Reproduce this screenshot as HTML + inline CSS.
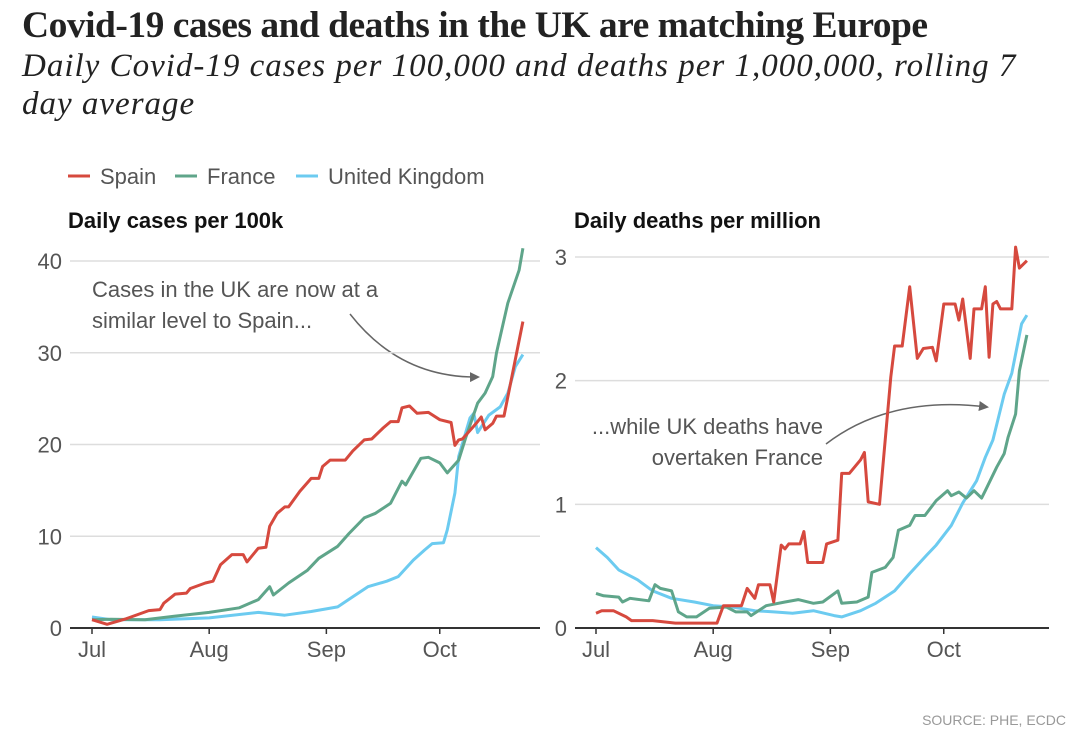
<!DOCTYPE html>
<html><head><meta charset="utf-8">
<style>
body{margin:0;background:#fff;width:1080px;height:750px;overflow:hidden;position:relative;font-family:"Liberation Sans Narrow","Liberation Sans",sans-serif;}
.t{position:absolute;margin:0;}
#title{left:22px;top:4px;font:bold 37.5px "Liberation Serif",serif;color:#222;letter-spacing:-0.5px;white-space:nowrap}
#sub{left:22px;top:47px;font:italic 33px/38px "Liberation Serif",serif;color:#222;width:1045px;letter-spacing:1px}
#src{right:14px;top:712px;font-size:14px;color:#999}
</style></head><body>
<div class="t" id="title">Covid-19 cases and deaths in the UK are matching Europe</div>
<div class="t" id="sub">Daily Covid-19 cases per 100,000 and deaths per 1,000,000, rolling 7 day average</div>
<div class="t" id="src">SOURCE: PHE, ECDC</div>
<svg id="svg" width="1080" height="750" style="position:absolute;left:0;top:0">
<defs><marker id="ah" markerWidth="10" markerHeight="10" refX="8" refY="5" orient="auto" markerUnits="userSpaceOnUse"><path d="M0,0 L10,5 L0,10 z" fill="#666"/></marker></defs>
<g font-size="22" fill="#555">
<g><line x1="68" y1="176" x2="90" y2="176" stroke="#d6493e" stroke-width="3"/><text x="100" y="184">Spain</text></g>
<g><line x1="175" y1="176" x2="197" y2="176" stroke="#5fa58a" stroke-width="3"/><text x="207" y="184">France</text></g>
<g><line x1="296" y1="176" x2="318" y2="176" stroke="#6ccbf0" stroke-width="3"/><text x="328" y="184">United Kingdom</text></g>
</g>
<text x="68" y="228" font-size="22" font-weight="bold" fill="#111">Daily cases per 100k</text>
<text x="574" y="228" font-size="22" font-weight="bold" fill="#111">Daily deaths per million</text>
<g font-size="22" fill="#555">
<text x="92" y="297">Cases in the UK are now at a</text>
<text x="92" y="328">similar level to Spain...</text>
<text x="823" y="434" text-anchor="end">...while UK deaths have</text>
<text x="823" y="465" text-anchor="end">overtaken France</text>
</g>
<path d="M350,314 Q400,378 478,377" fill="none" stroke="#666" stroke-width="1.5" marker-end="url(#ah)"/>
<path d="M826,444 Q890,395 987,407" fill="none" stroke="#666" stroke-width="1.5" marker-end="url(#ah)"/>
</svg>
<script>
// shared
const monthLabels=["Jul","Aug","Sep","Oct"];
const monthDays=[0,31,62,92];
// cases per 100k
const casesTicks=[0,10,20,30,40];
const spainCasesDays=[0,4,9,15,18,19,22,25,26,30,32,34,37,40,41,44,46,47,49,51,52,55,58,60,61,63,67,69,72,74,77,79,81,82,84,86,89,92,95,96,97,98,101,102,103,104,106,107,109,114];
const spainCasesVals=[0.9,0.4,1.0,1.9,2.0,2.7,3.7,3.8,4.3,4.9,5.1,6.9,8.0,8.0,7.2,8.7,8.8,11.1,12.5,13.2,13.2,14.9,16.3,16.3,17.6,18.3,18.3,19.3,20.5,20.6,21.8,22.5,22.5,24.0,24.2,23.4,23.5,22.7,22.4,19.9,20.5,20.6,22,22.5,23,21.6,22.3,23.1,23.1,33.4];
const franceCasesDays=[0,5,14,22,31,39,44,47,48,52,57,60,65,68,72,75,79,82,83,87,89,92,94,97,99,102,104,106,107,110,113,114];
const franceCasesVals=[0.9,0.95,0.9,1.3,1.7,2.2,3.1,4.5,3.6,4.9,6.3,7.6,8.9,10.3,12,12.5,13.6,16,15.6,18.5,18.6,18,16.9,18.3,20.9,24.5,25.6,27.4,30,35.4,39,41.4];
const ukCasesDays=[0,5,18,31,44,51,58,65,69,73,78,81,85,88,90,93,94,96,97,100,101,102,105,108,110,112,114];
const ukCasesVals=[1.2,0.9,0.9,1.1,1.7,1.4,1.8,2.3,3.4,4.5,5.1,5.6,7.4,8.5,9.2,9.3,10.7,14.7,18.7,22.9,23.4,21.3,23.2,24.1,25.6,28.5,29.8];
// deaths per million
const deathsTicks=[0,1,2,3];
const spainDeathsDays=[0,1.5,4.6,8,9.4,15,21,29,32,33.7,38.5,40,42,43,46,47,49,50,51,54,55,56,57.5,60,61,64,65,67,70,71,72,75,76.5,78,79,81,83,85,86.6,89,90,92,95,96,97,99,100,102,103,104,105,106,107,110,111,112,114];
const spainDeathsVals=[0.12,0.14,0.14,0.09,0.06,0.06,0.04,0.04,0.04,0.18,0.18,0.32,0.24,0.35,0.35,0.21,0.67,0.64,0.68,0.68,0.78,0.53,0.53,0.53,0.68,0.71,1.25,1.25,1.36,1.42,1.02,1.0,1.52,2.03,2.28,2.28,2.76,2.18,2.26,2.27,2.16,2.62,2.62,2.49,2.66,2.18,2.58,2.58,2.76,2.19,2.62,2.64,2.58,2.58,3.08,2.91,2.97];
const franceDeathsDays=[0,2,6,7,9,14,15.6,17,20,21.8,24,26.6,30,34.5,37,40,41,45,50,53.5,57.5,60,64,65,69,72,73,76.5,78.6,80,83,84.4,87,90,93,94,96,98,100,102,103,106,108,109,111,112,114];
const franceDeathsVals=[0.28,0.26,0.25,0.21,0.24,0.22,0.35,0.32,0.3,0.13,0.09,0.09,0.16,0.17,0.13,0.13,0.1,0.18,0.21,0.23,0.2,0.21,0.3,0.2,0.21,0.25,0.45,0.49,0.57,0.79,0.83,0.91,0.91,1.03,1.11,1.07,1.1,1.05,1.11,1.05,1.11,1.3,1.41,1.54,1.73,2.08,2.37];
const ukDeathsDays=[0,3,6,11,15,20,26,31,36,42,47,52,57.5,63,65,70,74,79,83,87.5,90,94,97,100.7,103,105,108,110,112.6,114];
const ukDeathsVals=[0.65,0.57,0.47,0.39,0.3,0.24,0.21,0.18,0.17,0.14,0.13,0.12,0.14,0.1,0.09,0.14,0.2,0.3,0.44,0.59,0.67,0.83,1.01,1.19,1.38,1.52,1.89,2.06,2.46,2.53];

const NS="http://www.w3.org/2000/svg";
const svg=document.getElementById('svg');
function mk(tag,attrs,parent){const e=document.createElementNS(NS,tag);for(const k in attrs)e.setAttribute(k,attrs[k]);(parent||svg).appendChild(e);return e;}

function panel(cfg){
  const xs=d=>cfg.x0+d*cfg.pxPerDay;
  const ys=v=>cfg.y0-(v/cfg.yMax)*(cfg.y0-cfg.yTop);
  const g=mk('g',{});
  
  
  cfg.ticks.forEach(t=>{
    if(t>0){const gl=mk('line',{x1:cfg.gx0,x2:cfg.gx1,y1:ys(t),y2:ys(t),stroke:'#ddd','stroke-width':1.5},g);
    
    }
    const tx=mk('text',{x:cfg.gx0-8,y:ys(t)+8,'text-anchor':'end','font-size':22,fill:'#555'},g);
    tx.textContent=t;
    
    
  });
  const ax=mk('line',{x1:cfg.gx0,x2:cfg.gx1,y1:cfg.y0,y2:cfg.y0,stroke:'#333','stroke-width':2},g);
  
  
  monthDays.forEach((d,i)=>{
    const tk=mk('line',{x1:xs(d),x2:xs(d),y1:cfg.y0,y2:cfg.y0+6,stroke:'#333','stroke-width':1.5},g);
    
    
    const tx=mk('text',{x:xs(d),y:cfg.y0+29,'text-anchor':'middle','font-size':22,fill:'#555'},g);
    tx.textContent=monthLabels[i];
    
    
  });
  cfg.series.forEach(s=>{
    const pts=s.days.map((d,i)=>xs(d).toFixed(1)+','+ys(s.vals[i]).toFixed(1)).join(' ');
    const pl=mk('polyline',{points:pts,fill:'none',stroke:s.color,'stroke-width':3,'stroke-linejoin':'round'},g);
    
    
  });
}
panel({name:'cases-chart',x0:92,pxPerDay:3.78,y0:628,yTop:261,yMax:40,gx0:70,gx1:540,ticks:casesTicks,
 series:[{days:ukCasesDays,vals:ukCasesVals,color:'#6ccbf0',name:'uk-cases-line'},
         {days:franceCasesDays,vals:franceCasesVals,color:'#5fa58a',name:'france-cases-line'},
         {days:spainCasesDays,vals:spainCasesVals,color:'#d6493e',name:'spain-cases-line'}]});
panel({name:'deaths-chart',x0:596,pxPerDay:3.78,y0:628,yTop:257,yMax:3,gx0:575,gx1:1049,ticks:deathsTicks,
 series:[{days:ukDeathsDays,vals:ukDeathsVals,color:'#6ccbf0',name:'uk-deaths-line'},
         {days:franceDeathsDays,vals:franceDeathsVals,color:'#5fa58a',name:'france-deaths-line'},
         {days:spainDeathsDays,vals:spainDeathsVals,color:'#d6493e',name:'spain-deaths-line'}]});
</script>
</body></html>
